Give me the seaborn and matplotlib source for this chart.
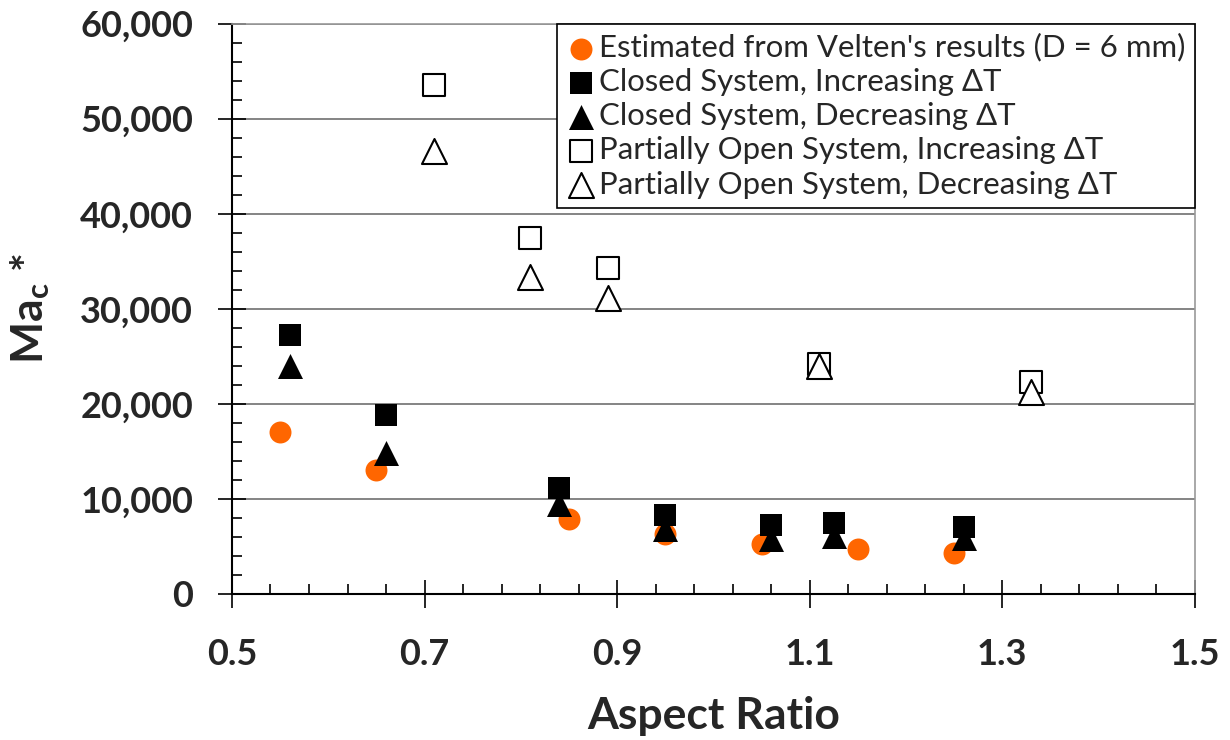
import matplotlib.pyplot as plt
import matplotlib.ticker as mticker
import seaborn as sns

# Velten estimate (D = 6 mm)
velten_ar = [0.55, 0.65, 0.85, 0.95, 1.05, 1.15, 1.25]
velten_ma = [17000, 13000, 7900, 6300, 5300, 4700, 4300]

# closed system
closed_ar = [0.56, 0.66, 0.84, 0.95, 1.06, 1.125, 1.26]
closed_inc = [27300, 18800, 11200, 8300, 7300, 7500, 7100]
closed_dec = [24000, 14800, 9500, 6800, 5800, 6100, 5900]

# partially open system
open_ar = [0.71, 0.81, 0.89, 1.11, 1.33]
open_inc = [53500, 37500, 34300, 24200, 22300]
open_dec = [46600, 33400, 31100, 24000, 21300]

labels = [
    "Estimated from Velten's results (D = 6 mm)",
    "Closed System, Increasing \u0394T",
    "Closed System, Decreasing \u0394T",
    "Partially Open System, Increasing \u0394T",
    "Partially Open System, Decreasing \u0394T",
]

sns.set_theme(style="white")
plt.rcParams["font.family"] = ["Lato", "DejaVu Sans"]
plt.rcParams["mathtext.default"] = "regular"

fig = plt.figure(figsize=(12.3, 7.4), dpi=100)
ax = fig.add_axes([0.1886, 0.1973, 0.7829, 0.7707])

sns.scatterplot(x=velten_ar, y=velten_ma, ax=ax, marker="o", s=250,
                color="#FF6600", linewidth=0, label=labels[0], zorder=3)
sns.scatterplot(x=closed_ar, y=closed_inc, ax=ax, marker="s", s=250,
                color="black", linewidth=0, label=labels[1], zorder=4)
sns.scatterplot(x=closed_ar, y=closed_dec, ax=ax, marker="^", s=324,
                color="black", linewidth=0, label=labels[2], zorder=5)
sns.scatterplot(x=open_ar, y=open_inc, ax=ax, marker="s", s=250,
                color="white", edgecolor="black", linewidth=1.5,
                label=labels[3], zorder=4)
sns.scatterplot(x=open_ar, y=open_dec, ax=ax, marker="^", s=324,
                color="white", edgecolor="black", linewidth=1.5,
                label=labels[4], zorder=5)

ax.set_xlim(0.5, 1.5)
ax.set_ylim(0, 60000)
ax.xaxis.set_major_locator(mticker.MultipleLocator(0.2, offset=0.1))
ax.xaxis.set_minor_locator(mticker.MultipleLocator(0.04, offset=0.02))
ax.xaxis.set_major_formatter(mticker.FormatStrFormatter("%.1f"))
ax.yaxis.set_major_locator(mticker.MultipleLocator(10000))
ax.yaxis.set_minor_locator(mticker.MultipleLocator(2000))
ax.yaxis.set_major_formatter(mticker.StrMethodFormatter("{x:,.0f}"))

ax.grid(axis="y", which="major", color="#707070", linewidth=1.2)
ax.set_axisbelow(True)

ax.tick_params(axis="both", which="major", direction="inout", length=20,
               width=1.2, color="black", labelsize=26, pad=18)
ax.tick_params(axis="both", which="minor", direction="in", length=7,
               width=1.2, color="black")
ax.tick_params(axis="x", which="major", pad=22)
ax.tick_params(axis="x", which="both", bottom=True)
ax.tick_params(axis="y", which="both", left=True)
for lab in ax.get_xticklabels() + ax.get_yticklabels():
    lab.set_fontweight("bold")

for side in ["left", "bottom"]:
    ax.spines[side].set_color("black")
    ax.spines[side].set_linewidth(1.5)
for side in ["top", "right"]:
    ax.spines[side].set_color("#999999")
    ax.spines[side].set_linewidth(1.2)

ax.set_xlabel("Aspect Ratio", fontsize=32, fontweight="bold", labelpad=18)
ax.set_ylabel("Ma$_c$ *", fontsize=32, fontweight="bold", labelpad=20)

leg = ax.legend(loc="upper right", fontsize=22.4, frameon=True, fancybox=False,
                edgecolor="black", framealpha=1, borderaxespad=0,
                handletextpad=0.15, handlelength=0.9, labelspacing=0.2,
                borderpad=0.3, markerscale=1.0)
leg.get_frame().set_linewidth(1.2)

fig.savefig("out.png", dpi=100)
